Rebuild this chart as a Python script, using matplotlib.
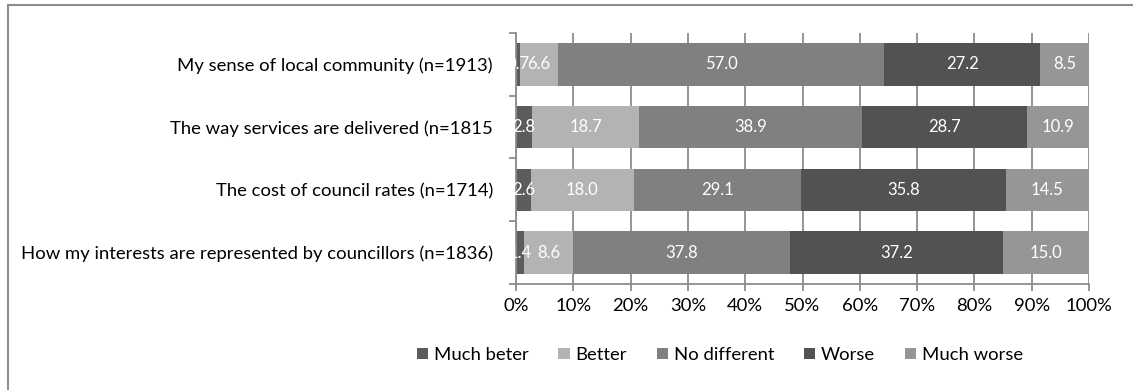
import matplotlib
matplotlib.use("Agg")
import matplotlib.pyplot as plt
from matplotlib.patches import Rectangle
from matplotlib.ticker import FixedLocator, PercentFormatter
import numpy as np

plt.rcParams['font.family'] = ['Lato', 'DejaVu Sans']

categories = [
    "My sense of local community (n=1913)",
    "The way services are delivered (n=1815",
    "The cost of council rates (n=1714)",
    "How my interests are represented by councillors (n=1836)",
]
series_names = ["Much beter", "Better", "No different", "Worse", "Much worse"]
much_better = [0.7, 2.8, 2.6, 1.4]
better = [6.6, 18.7, 18.0, 8.6]
no_different = [57.0, 38.9, 29.1, 37.8]
worse = [27.2, 28.7, 35.8, 37.2]
much_worse = [8.5, 10.9, 14.5, 15.0]
series = [much_better, better, no_different, worse, much_worse]
colors = ["#5c5c5c", "#b3b3b3", "#808080", "#525252", "#969696"]

FS = 13.3

fig = plt.figure(figsize=(11.33, 3.9), dpi=100)
ax = fig.add_axes([516/1133, 1-284/390, (1089-516)/1133, (284-33)/390])

y = np.arange(len(categories))
left = np.zeros(len(categories))
for vals, name, col in zip(series, series_names, colors):
    vals = np.array(vals)
    ax.barh(y, vals, left=left, height=0.68, color=col, label=name, zorder=2)
    for yi, l, v in zip(y, left, vals):
        ax.text(l + v/2, yi, f"{v:.1f}", ha='center', va='center', color='white',
                fontsize=12, zorder=3)
    left = left + vals

ax.set_xlim(0, 100)
ax.set_ylim(len(categories)-0.5, -0.5)
ax.xaxis.set_major_locator(FixedLocator(np.arange(0, 101, 10)))
ax.xaxis.set_major_formatter(PercentFormatter(decimals=0))
ax.set_yticks(y)
ax.set_yticklabels(categories)
ax.yaxis.set_minor_locator(FixedLocator(np.arange(-0.5, len(categories), 1)))
ax.tick_params(axis='y', which='major', length=0, pad=16.5, labelsize=FS)
ax.tick_params(axis='y', which='minor', length=5, color='#8c8c8c', width=1.3)
ax.tick_params(axis='x', which='major', length=5, color='#8c8c8c', width=1.3, labelsize=FS, pad=5)
ax.grid(axis='x', color='#8c8c8c', linewidth=1.3, zorder=0)
ax.set_axisbelow(True)
for s in ['top', 'right']:
    ax.spines[s].set_visible(False)
for s in ['left', 'bottom']:
    ax.spines[s].set_color('#8c8c8c')
    ax.spines[s].set_linewidth(1.3)

ax.legend(loc='center', bbox_to_anchor=(720/1133, 1-355/390), bbox_transform=fig.transFigure,
          ncol=5, frameon=False, fontsize=FS, handlelength=0.6, handleheight=0.6,
          handletextpad=0.33, columnspacing=1.6, borderpad=0)

fig.patches.append(Rectangle((8/1133, -0.1), 1.2, 1.1 - 5/390, transform=fig.transFigure,
                             fill=False, edgecolor='#8c8c8c', linewidth=1.5))

fig.savefig("out.png", dpi=100, facecolor='white')
